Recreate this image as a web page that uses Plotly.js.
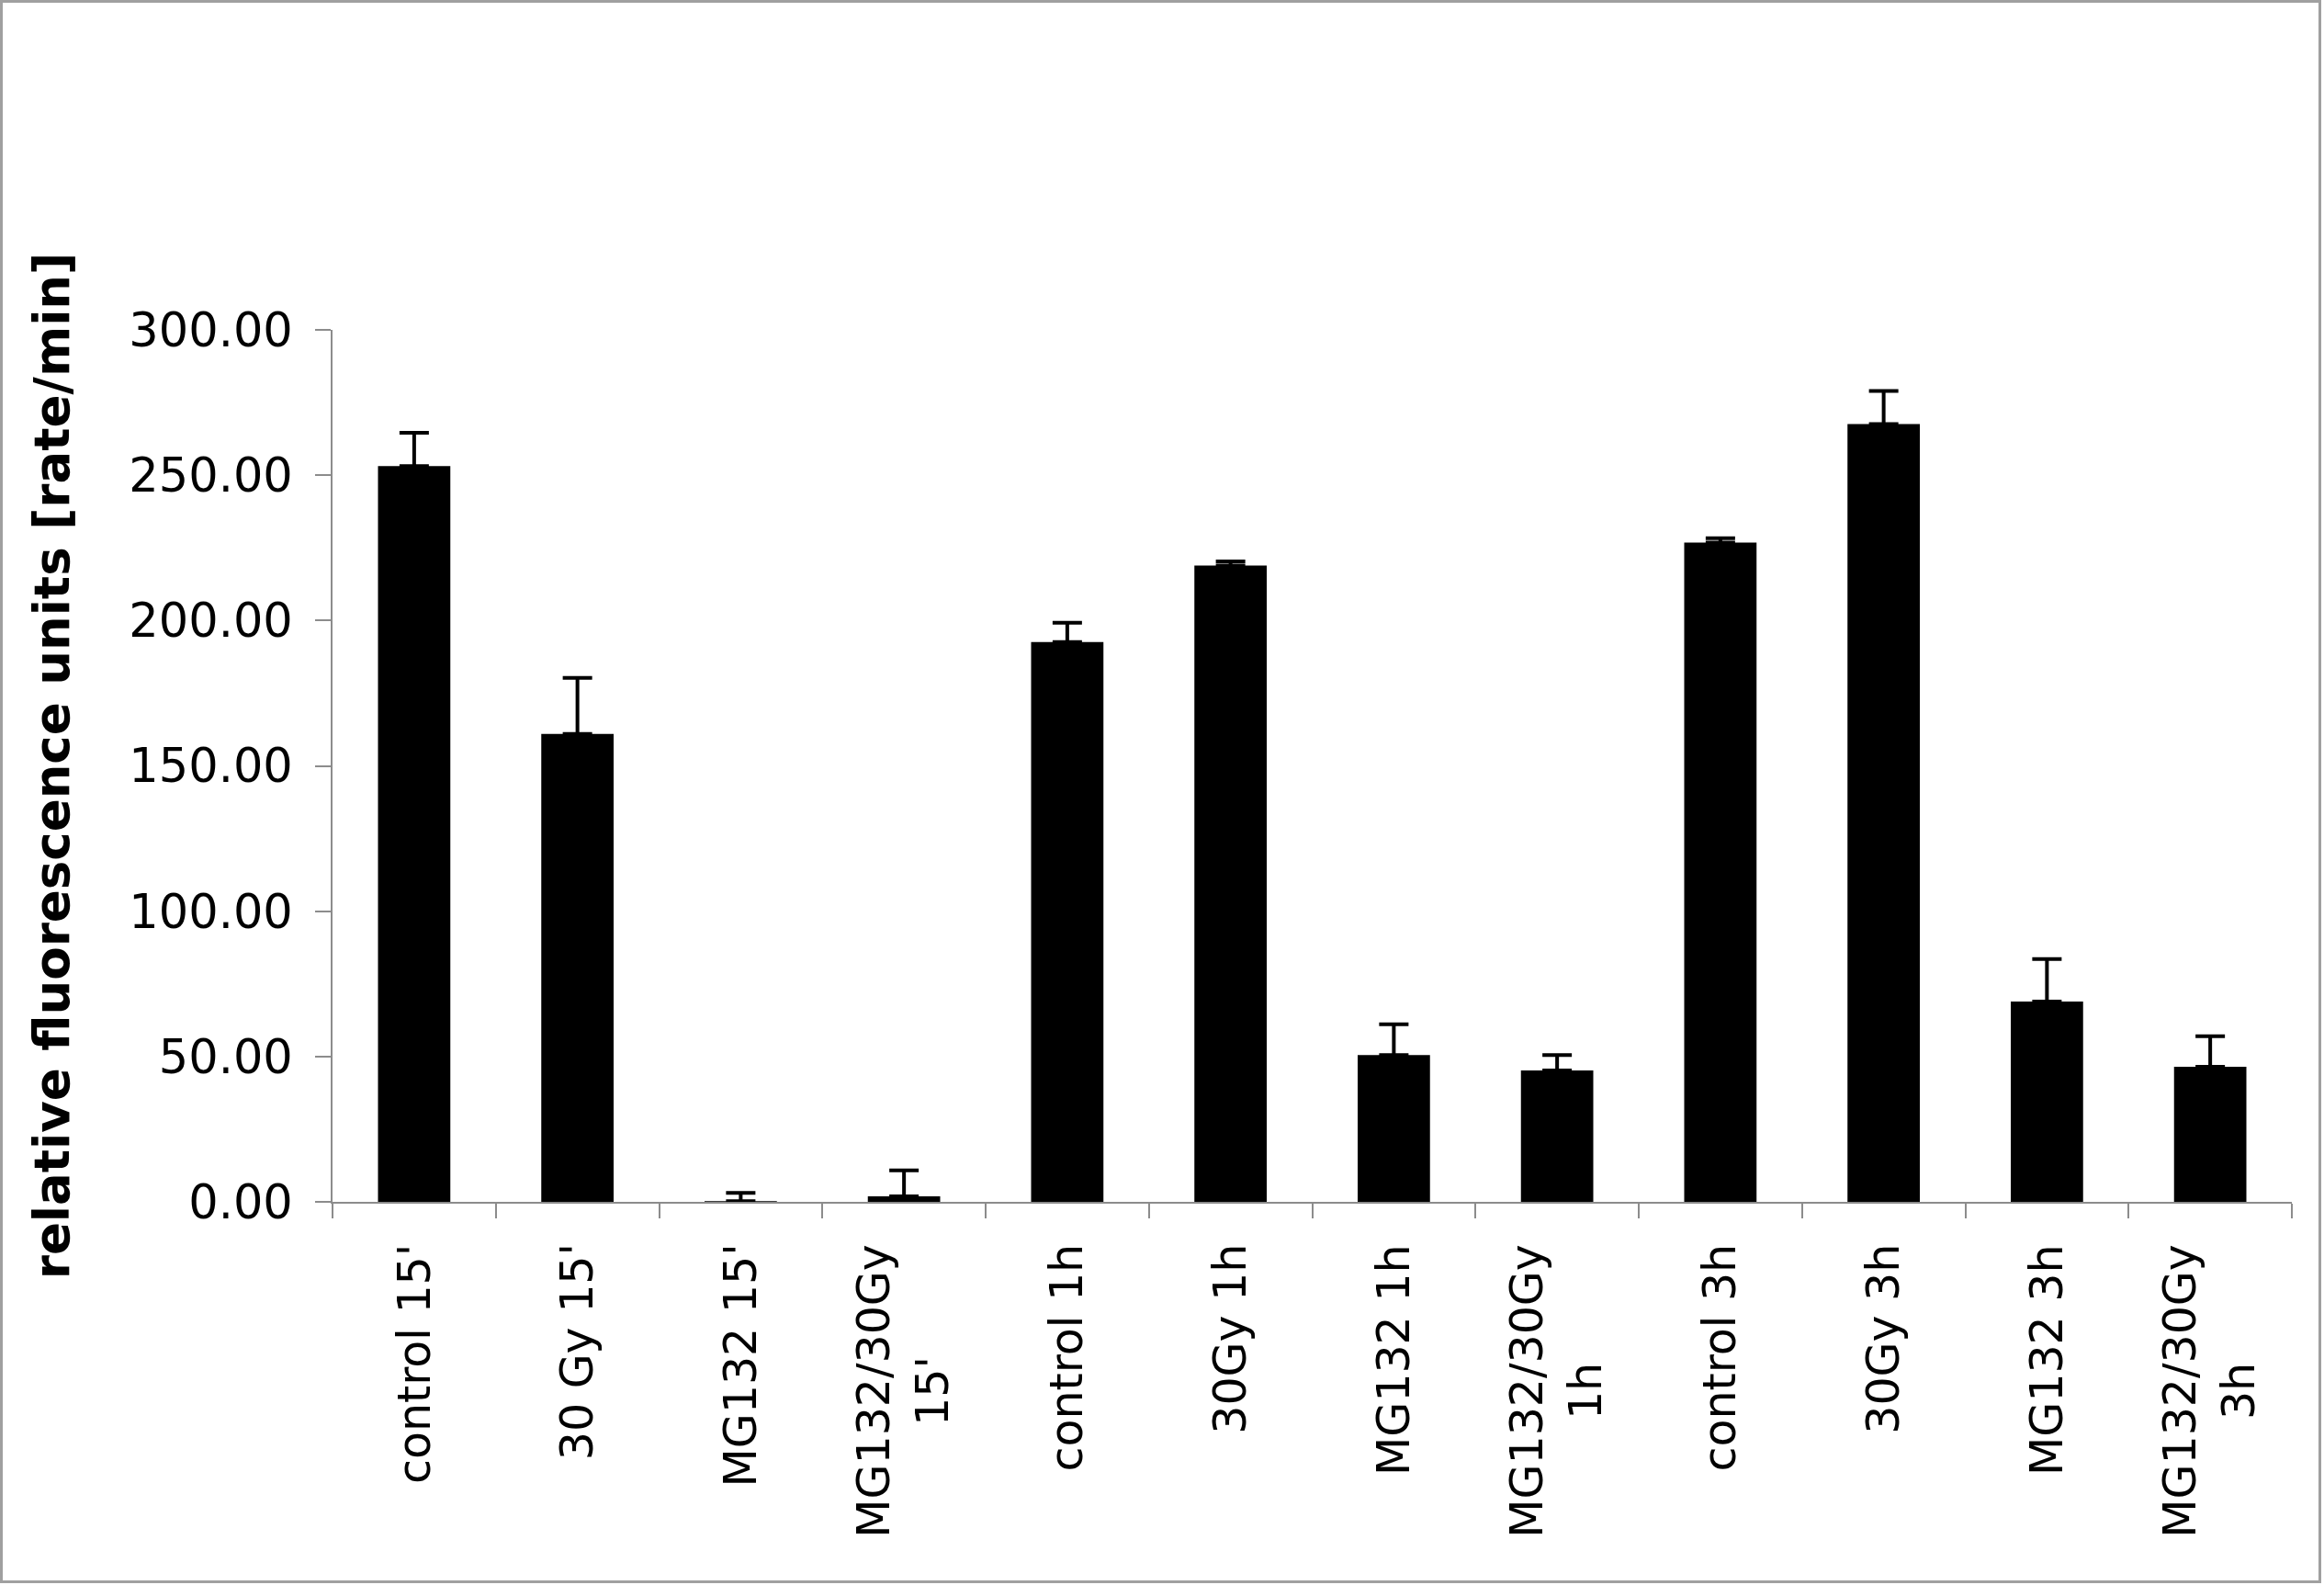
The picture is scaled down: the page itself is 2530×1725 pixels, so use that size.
<!DOCTYPE html>
<html>
<head>
<meta charset="utf-8">
<script src="https://cdn.plot.ly/plotly-3.0.1.min.js"></script>
<style>
  html, body { margin: 0; padding: 0; background: #fff; }
  #wrap { position: relative; width: 2530px; height: 1725px; }
  #chart { position: absolute; left: 0; top: 0; width: 2530px; height: 1725px; }
  #frame { position: absolute; left: 0; top: 0; width: 2527px; height: 1723px;
           box-sizing: border-box; border: 3px solid #a0a0a0; pointer-events: none; }
</style>
</head>
<body>
<div id="wrap">
  <div id="chart"></div>
  <div id="frame"></div>
</div>
<script>
// Categories (x tick labels)
var categories = [
  "control 15'", "30 Gy 15'", "MG132 15'", "MG132/30Gy<br>15'",
  "control 1h", "30Gy 1h", "MG132 1h", "MG132/30Gy<br>1h",
  "control 3h", "30Gy 3h", "MG132 3h", "MG132/30Gy<br>3h"
];
// Bar values (relative fluorescence units, rate/min)
var values = [253.1, 161.0, 0.2, 1.9, 192.6, 218.9, 50.5, 45.2, 226.8, 267.6, 68.9, 46.5];
// Upper error bars
var errPlus = [11.5, 19.3, 2.9, 8.9, 6.6, 1.4, 10.6, 5.3, 1.5, 11.4, 14.6, 10.5];
// Lower error bars (not shown in the original)
var errMinus = [0, 0, 0, 0, 0, 0, 0, 0, 0, 0, 0, 0];
// Y tick values and labels
var yTickVals = [0, 50, 100, 150, 200, 250, 300];
var yTickText = ["0.00", "50.00", "100.00", "150.00", "200.00", "250.00", "300.00"];

var axisColor = '#8c8c8c';
var labelFont = { family: 'DejaVu Sans, sans-serif', size: 49, color: '#000' };

var trace = {
  type: 'bar',
  x: categories,
  y: values,
  marker: { color: '#000', line: { width: 0 } },
  error_y: {
    type: 'data', symmetric: false,
    array: errPlus, arrayminus: errMinus,
    color: '#000', thickness: 4, width: 16, visible: true
  },
  hoverinfo: 'skip'
};

var annotations = categories.map(function (c) {
  return {
    x: c, xref: 'x', y: -0.046, yref: 'paper',
    text: c, showarrow: false, textangle: -90,
    xanchor: 'center', yanchor: 'top', align: 'center',
    font: labelFont
  };
});

var layout = {
  width: 2530, height: 1725,
  margin: { l: 362, r: 35, t: 359, b: 417, pad: 0 },
  paper_bgcolor: '#fff', plot_bgcolor: '#fff',
  showlegend: false,
  bargap: 0.557,
  xaxis: {
    type: 'category',
    showticklabels: false,
    ticks: 'outside', tickson: 'boundaries', ticklen: 16, tickwidth: 2, tickcolor: axisColor,
    showline: true, linecolor: axisColor, linewidth: 2,
    showgrid: false, zeroline: false
  },
  yaxis: {
    range: [0, 300],
    tickvals: yTickVals, ticktext: yTickText,
    ticks: 'outside', ticklen: 17, tickwidth: 2, tickcolor: axisColor,
    ticklabelstandoff: 14,
    showline: true, linecolor: axisColor, linewidth: 2,
    showgrid: false, zeroline: false,
    tickfont: { family: 'DejaVu Sans, sans-serif', size: 51, color: '#000' },
    title: {
      text: 'relative fluorescence units [rate/min]',
      font: { family: 'DejaVu Sans, sans-serif', size: 53, color: '#000', weight: 'bold' },
      standoff: 48
    }
  },
  annotations: annotations
};

Plotly.newPlot('chart', [trace], layout, { displayModeBar: false, staticPlot: true });
</script>
</body>
</html>
